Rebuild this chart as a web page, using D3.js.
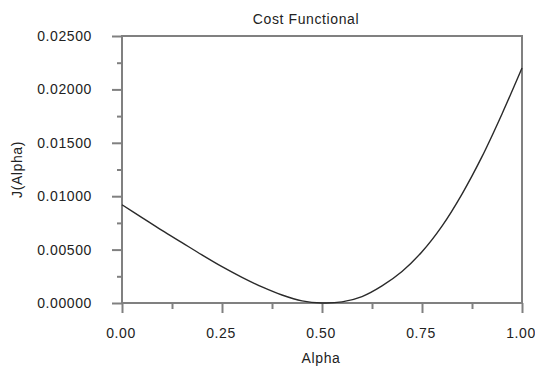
<!DOCTYPE html>
<html><head><meta charset="utf-8">
<script src="https://cdn.jsdelivr.net/npm/d3@7"></script>
<style>
html,body{margin:0;padding:0;background:#fff;}
text{font-family:"Liberation Sans",Arial,Helvetica,sans-serif;fill:#222;letter-spacing:0.6px;}
</style></head>
<body>
<svg id="chart" width="535" height="368"></svg>
<script>
const alpha = [0.00,0.05,0.10,0.15,0.20,0.25,0.30,0.35,0.40,0.45,0.50,0.55,0.60,0.65,0.70,0.75,0.80,0.85,0.90,0.95,1.00];
const costJ = [0.00920,0.00800,0.00680,0.00565,0.00450,0.00340,0.00240,0.00150,0.00075,0.00020,0.00000,0.00010,0.00060,0.00160,0.00295,0.00480,0.00720,0.01020,0.01370,0.01770,0.02200];
const xMajorTicks = [0, 0.25, 0.5, 0.75, 1.0];
const xMinorTicks = [0.125, 0.375, 0.625, 0.875];
const yMajorTicks = [0, 0.005, 0.010, 0.015, 0.020, 0.025];
const yMinorTicks = [0.0025, 0.0075, 0.0125, 0.0175, 0.0225];
const titleText = "Cost Functional";
const xLabel = "Alpha";
const yLabel = "J(Alpha)";

const svg = d3.select("#chart");
const L = 122, R = 522, T = 36, B = 303;
const x = d3.scaleLinear().domain([0, 1]).range([L, R]);
const y = d3.scaleLinear().domain([0, 0.025]).range([B, T]);
const axisColor = "#808080";
const fs = 14;

svg.append("rect").attr("x", L).attr("y", T).attr("width", R - L).attr("height", B - T)
  .attr("fill", "none").attr("stroke", axisColor).attr("stroke-width", 2);

function styleAxis(g) {
  g.select(".domain").remove();
  g.selectAll("line").attr("stroke", axisColor).attr("stroke-width", 2);
  g.selectAll("text").remove();
}
svg.append("g").attr("transform", `translate(0,${B})`)
  .call(d3.axisBottom(x).tickValues(xMajorTicks).tickSize(10)).call(styleAxis);
svg.append("g").attr("transform", `translate(0,${B})`)
  .call(d3.axisBottom(x).tickValues(xMinorTicks).tickSize(6)).call(styleAxis);
svg.append("g").attr("transform", `translate(${L},0)`)
  .call(d3.axisLeft(y).tickValues(yMajorTicks).tickSize(10)).call(styleAxis);
svg.append("g").attr("transform", `translate(${L},0)`)
  .call(d3.axisLeft(y).tickValues(yMinorTicks).tickSize(5)).call(styleAxis);

const fx = d3.format(".2f"), fy = d3.format(".5f");
svg.append("g").selectAll("text").data(xMajorTicks).join("text")
  .attr("x", d => x(d) - 1).attr("y", 338).attr("text-anchor", "middle")
  .attr("font-size", fs).text(d => fx(d));
svg.append("g").selectAll("text").data(yMajorTicks).join("text")
  .attr("x", 92).attr("y", d => y(d) + 5).attr("text-anchor", "end")
  .attr("font-size", fs).text(d => fy(d));

const line = d3.line().curve(d3.curveCatmullRom.alpha(0.5)).x((d, i) => x(alpha[i])).y(d => y(d));
svg.append("path").datum(costJ).attr("d", line)
  .attr("fill", "none").attr("stroke", "#2a2a2a").attr("stroke-width", 1.4)
  .attr("stroke-linejoin", "round");

svg.append("text").attr("x", 306).attr("y", 23.5).attr("text-anchor", "middle")
  .attr("font-size", fs).text(titleText);
svg.append("text").attr("x", (L + R) / 2 - 1).attr("y", 363).attr("text-anchor", "middle")
  .attr("font-size", fs).text(xLabel);
svg.append("text").attr("transform", `translate(22,${(T + B) / 2}) rotate(-90)`)
  .attr("text-anchor", "middle").attr("font-size", fs).text(yLabel);
</script>
</body></html>
